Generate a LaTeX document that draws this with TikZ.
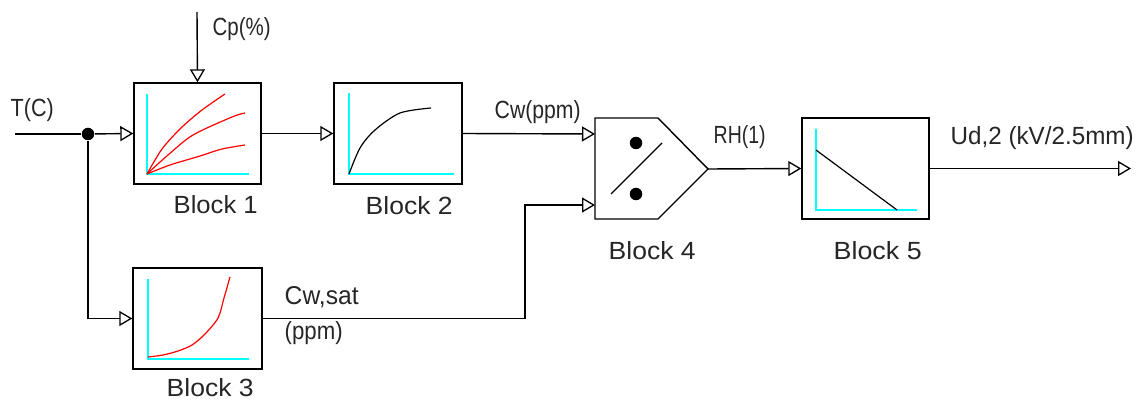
\documentclass[tikz,border=0pt]{standalone}
\usepackage{fontspec}
\setmainfont{Liberation Sans}
\usetikzlibrary{arrows.meta}
\definecolor{cy}{RGB}{0,255,255}
\definecolor{rd}{RGB}{255,0,0}
\newcommand{\fitt}[2]{\resizebox{#1pt}{18pt}{#2}}
\begin{document}
\begin{tikzpicture}[x=1pt,y=-1pt,
  line width=1.4pt,
  arr/.style={-{Triangle[open,length=13pt,width=15pt,line width=1.3pt]}},
  blk/.style={draw,rectangle,minimum width=127pt,minimum height=101pt,inner sep=0pt},
  lbl/.style={font=\fontsize{26}{28}\selectfont\color{black!85},inner sep=0pt,anchor=base west},
  axis/.style={cy,line width=1.4pt},
  crv/.style={rd,line width=1.2pt},
  dotn/.style={circle,fill=black,minimum size=12.5pt,inner sep=0pt}
]
\useasboundingbox (0,0) rectangle (1141,401);

% blocks
\node[blk] (b1) at (197.5,133.5) {};
\node[blk,minimum width=128pt] (b2) at (398,133.5) {};
\node[blk,minimum width=129pt] (b3) at (197.5,318.5) {};
\node[blk] (b5) at (865.5,168.5) {};

% block 4 shape
\coordinate (b4nw) at (595,118);
\coordinate (b4sw) at (595,219);
\coordinate (b4ne) at (658,118);
\coordinate (b4se) at (658,219);
\coordinate (b4tip) at (708,169);
\draw (b4nw) -- (b4ne) -- (b4tip) -- (b4se) -- (b4sw) -- cycle;
\node[dotn] (d1) at (636,143) {};
\node[dotn] (d2) at (636,194) {};
\draw (611,194) -- (662,143);
\coordinate (b4in1) at (595,134);
\coordinate (b4in2) at (595,205);

% block 1 graph
\draw[axis] (147,94) -- (147,174) -- (249,174);
\draw[crv] plot[smooth] coordinates {(147,174) (162,149) (181,128) (202,110) (225,94)};
\draw[crv] plot[smooth] coordinates {(147,174) (168,155) (193,135) (232,117) (245,113)};
\draw[crv] plot[smooth] coordinates {(147,174) (170,165) (200,156) (222,149) (245,145)};

% block 2 graph
\draw[axis] (349,93) -- (349,174) -- (454,174);
\draw[line width=1.2pt] plot[smooth] coordinates {(349,174) (360,148) (375,130) (400,113) (431,108)};

% block 3 graph
\draw[axis] (148,279) -- (148,359) -- (249,359);
\draw[crv] plot[smooth] coordinates {(148,357) (163,355) (178,351) (192,345) (205,334) (218,318) (224,298) (230,277)};

% block 5 graph
\draw[axis] (816,129) -- (816,210) -- (917,210);
\draw[line width=1.2pt] (816,150) -- (897,210);

% connectors
\coordinate (tin) at (15,134);
\node[dotn] (dot) at (88,134) {};
\draw (tin) -- (dot);
\draw[arr] (dot) -- (b1.west);
\draw[arr] (dot) |- (b3.west);
\coordinate (cptop) at (197,12);
\draw[arr] (cptop) -- (b1.north);
\draw[arr] (b1.east) -- (b2.west);
\draw[arr] (b2.east) -- (b4in1);
\coordinate (bend) at (525,318.5);
\draw[arr] (b3.east) -- (bend) |- (b4in2);
\draw[arr] (b4tip) -- (b5.west);
\coordinate (out) at (1131,168.5);
\draw[arr] (b5.east) -- (out);

% labels
\node[lbl] (tT) at (10,117) {\fitt{43}{T(C)}};
\node[lbl] (tCp) at (212,36) {\fitt{58}{Cp(\%)}};
\node[lbl] (tB1) at (173,213) {\fitt{84}{Block 1}};
\node[lbl] (tB2) at (365,214) {\fitt{87}{Block 2}};
\node[lbl] (tB3) at (166,396) {\fitt{87}{Block 3}};
\node[lbl] (tB4) at (608,259) {\fitt{87}{Block 4}};
\node[lbl] (tB5) at (833,259) {\fitt{88}{Block 5}};
\node[lbl] (tCw) at (494,118) {\fitt{86}{Cw(ppm)}};
\node[lbl] (tRH) at (713,143) {\fitt{52}{RH(1)}};
\node[lbl] (tUd) at (950,145) {\fitt{183}{Ud,2 (kV/2.5mm)}};
\node[lbl] (tCs) at (284,304) {\fitt{74}{Cw,sat}};
\node[lbl] (tpp) at (284,339) {\fitt{58}{(ppm)}};
\end{tikzpicture}
\end{document}
